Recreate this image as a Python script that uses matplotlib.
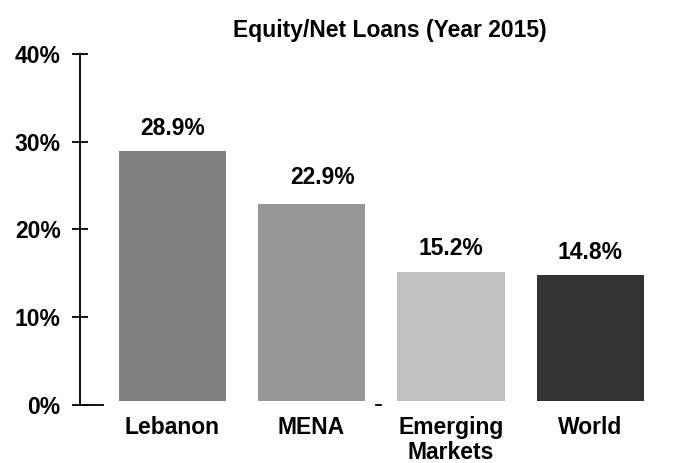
import matplotlib
matplotlib.use("Agg")
import matplotlib.pyplot as plt
from matplotlib.ticker import FuncFormatter

categories = ["Lebanon", "MENA", "Emerging\nMarkets", "World"]
values = [28.9, 22.9, 15.2, 14.8]
colors = ["#808080", "#969696", "#c0c0c0", "#333333"]
yticks = [0, 10, 20, 30, 40]
title = "Equity/Net Loans (Year 2015)"

plt.rcParams['font.family'] = ['Liberation Sans', 'DejaVu Sans']
FS = 16.5
base_gap = 0.4
# label nudges (points) as in the original layout
label_nudge = [(0, 8), (8, 11), (0, 8), (0, 8)]

fig = plt.figure(figsize=(6.76, 4.63), dpi=100)
ax = fig.add_axes([0.1183, 0.1253, 0.862, 0.7581])

x = list(range(len(categories)))
bars = ax.bar(x, [v - base_gap for v in values], bottom=base_gap, width=0.77, color=colors)
for xi, v, nd in zip(x, values, label_nudge):
    ax.annotate(f"{v:.1f}%", (xi, v), xytext=nd, textcoords="offset points",
                ha="center", va="bottom", fontsize=FS, fontweight="bold")

ax.set_xlim(-0.662, 3.52)
ax.set_ylim(0, 40)
ax.set_yticks(yticks)
ax.yaxis.set_major_formatter(FuncFormatter(lambda v, p: f"{v:.0f}%"))
ax.set_xticks(x)
ax.set_xticklabels(categories, fontsize=FS, fontweight="bold", va="top", linespacing=1.08)
ax.tick_params(axis="x", length=0, pad=8)
ax.tick_params(axis="y", direction="inout", length=12, width=1.3, labelsize=FS, pad=8)
for lab in ax.get_yticklabels():
    lab.set_fontweight("bold")
for s in ["top", "right", "bottom"]:
    ax.spines[s].set_visible(False)
ax.spines["left"].set_linewidth(1.3)
# short stubs of the baseline
ax.plot([-0.662, -0.497], [0, 0], color="black", lw=1.3, clip_on=False)
ax.plot([1.46, 1.50], [0, 0], color="black", lw=1.3, clip_on=False)

fig.text(0.577, 0.935, title, ha="center", va="center", fontsize=FS, fontweight="bold")

fig.savefig("out.png", dpi=100)
